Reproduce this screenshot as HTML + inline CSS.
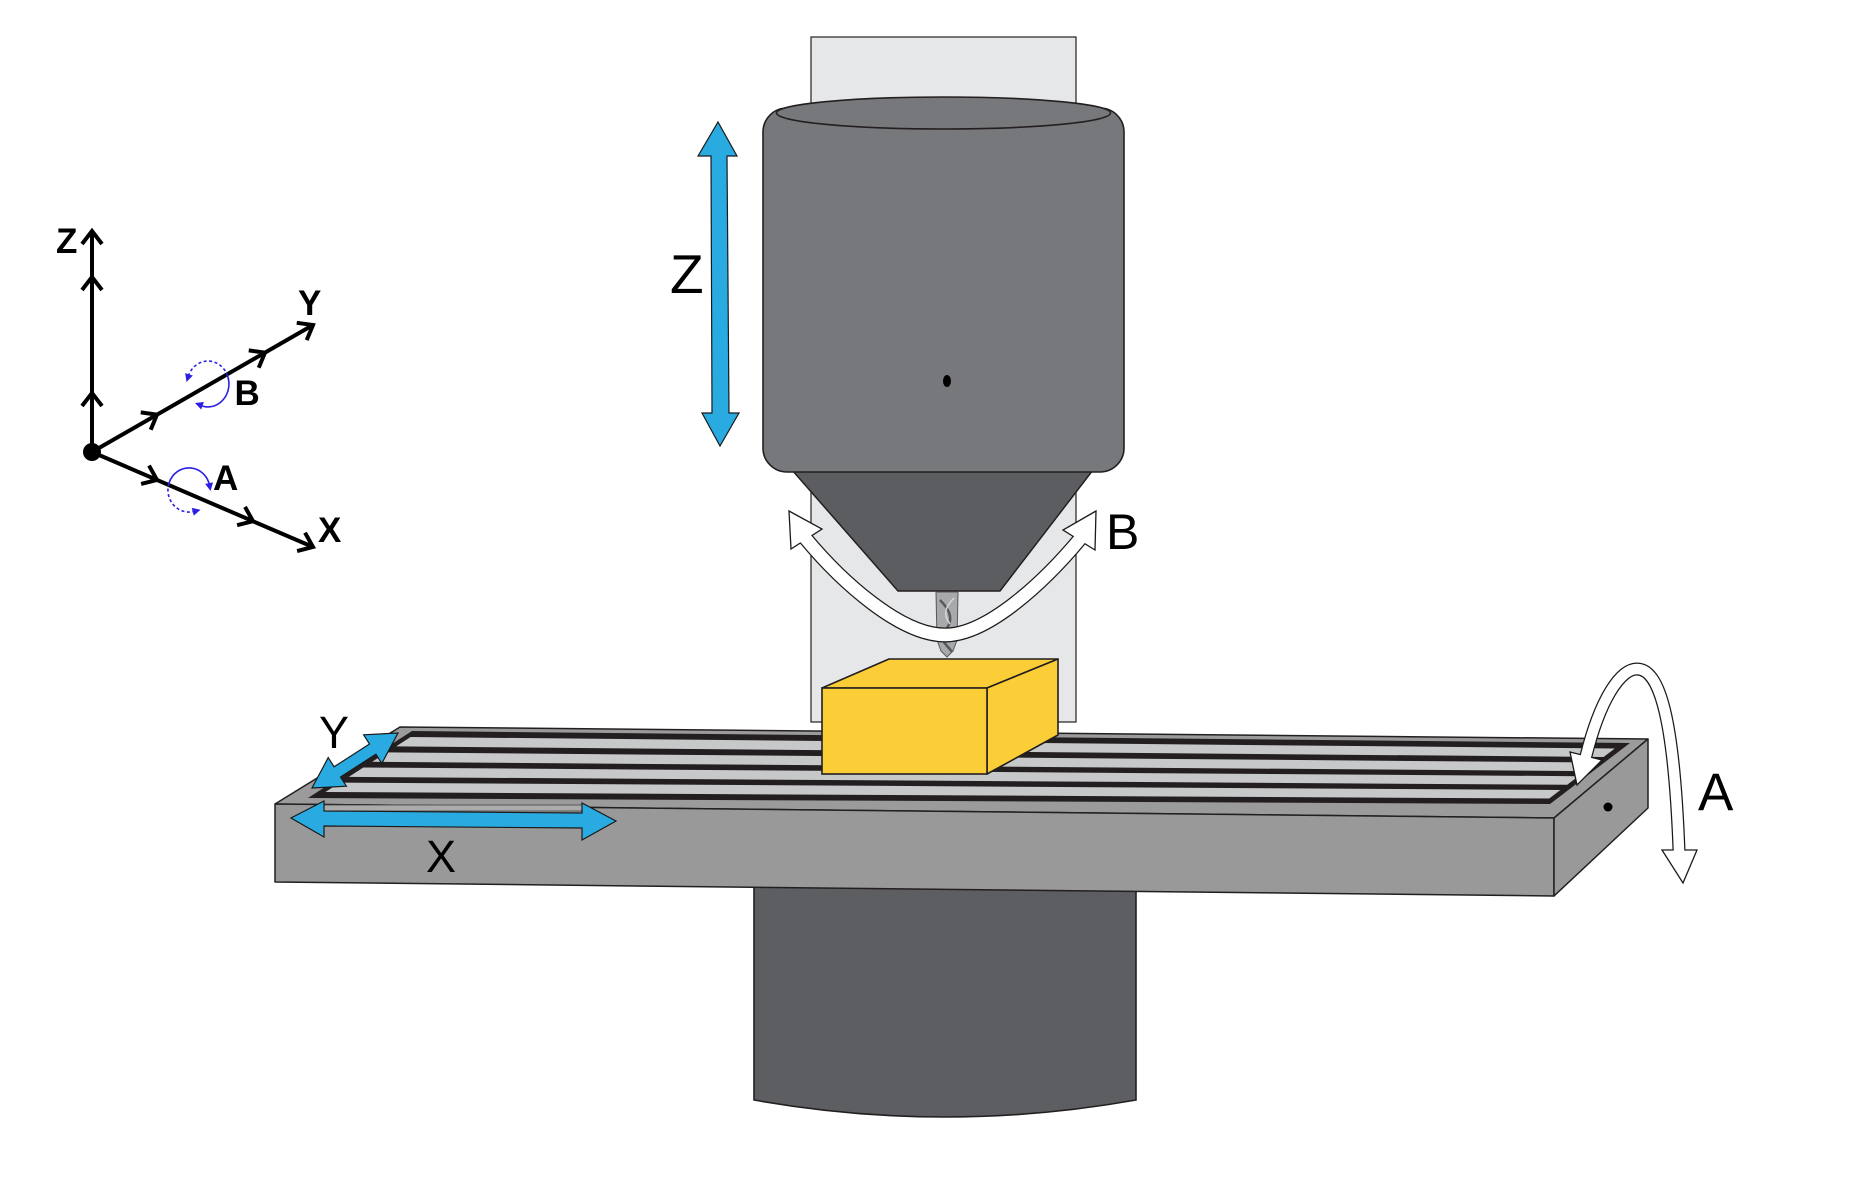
<!DOCTYPE html>
<html>
<head>
<meta charset="utf-8">
<style>
html,body{margin:0;padding:0;background:#fff;}
body{width:1870px;height:1197px;overflow:hidden;}
svg{display:block;}
text{font-family:"Liberation Sans",sans-serif;}
</style>
</head>
<body>
<svg width="1870" height="1197" viewBox="0 0 1870 1197" xmlns="http://www.w3.org/2000/svg">
<rect width="1870" height="1197" fill="#fff"/>

<!-- ===== Small axis diagram ===== -->
<g stroke="#000" stroke-width="4" fill="none" stroke-linejoin="miter">
  <line x1="92" y1="452" x2="92" y2="231"/>
  <line x1="92" y1="452" x2="313" y2="325"/>
  <line x1="92" y1="452" x2="313" y2="547"/>
  <!-- Z chevrons -->
  <path d="M -13,-10 L 0,0 L -13,10" transform="translate(92,231) rotate(-90)"/>
  <path d="M -13,-10 L 0,0 L -13,10" transform="translate(92,277) rotate(-90)"/>
  <path d="M -13,-10 L 0,0 L -13,10" transform="translate(92,393) rotate(-90)"/>
  <!-- Y chevrons -->
  <path d="M -13,-10 L 0,0 L -13,10" transform="translate(313,325) rotate(-29.9)"/>
  <path d="M -13,-10 L 0,0 L -13,10" transform="translate(157,414.6) rotate(-29.9)"/>
  <path d="M -13,-10 L 0,0 L -13,10" transform="translate(265,352.6) rotate(-29.9)"/>
  <!-- X chevrons -->
  <path d="M -13,-10 L 0,0 L -13,10" transform="translate(313,547) rotate(23.3)"/>
  <path d="M -13,-10 L 0,0 L -13,10" transform="translate(157,479.9) rotate(23.3)"/>
  <path d="M -13,-10 L 0,0 L -13,10" transform="translate(253,521.2) rotate(23.3)"/>
</g>
<circle cx="92" cy="452" r="9" fill="#000"/>

<!-- blue rotation arcs -->
<g stroke="#2b1fe3" stroke-width="1.6" fill="none">
  <path d="M 188.3,376.1 A 21 23 0 0 1 226.5,373.2" stroke-dasharray="3 2.5"/>
  <path d="M 226.5,373.2 A 21 23 0 0 1 199.1,404.8"/>
  <path d="M 169,483.2 A 21 22 0 0 1 209.7,486.2"/>
  <path d="M 169,483.2 A 21 22 0 0 0 194.4,511.3" stroke-dasharray="3 2.5"/>
</g>
<g fill="#2b1fe3">
  <polygon points="0,0 -8,-4 -8,4" transform="translate(186.5,382) rotate(108)"/>
  <polygon points="0,0 -8,-4 -8,4" transform="translate(195,403) rotate(200)"/>
  <polygon points="0,0 -8,-4 -8,4" transform="translate(210.5,491) rotate(80)"/>
  <polygon points="0,0 -8,-4 -8,4" transform="translate(200.5,509.7) rotate(-15)"/>
</g>

<g font-weight="bold" font-size="35" fill="#000">
  <text x="56" y="253">Z</text>
  <text x="298" y="315">Y</text>
  <text x="318" y="542">X</text>
  <text x="234.5" y="405">B</text>
  <text x="213" y="490">A</text>
</g>

<!-- ===== Machine ===== -->
<!-- column -->
<rect x="811" y="37" width="265" height="685" fill="#e6e7e8" stroke="#231f20" stroke-width="1.2"/>

<!-- cone -->
<polygon points="792,470 1093,470 1000,591 898,591" fill="#5c5d61" stroke="#231f20" stroke-width="1.5"/>

<!-- head body -->
<rect x="763" y="108" width="361" height="364" rx="24" ry="24" fill="#77787b" stroke="#231f20" stroke-width="1.6"/>
<ellipse cx="943.5" cy="113" rx="167" ry="16" fill="#77787b" stroke="#231f20" stroke-width="1.6"/>
<ellipse cx="947" cy="381" rx="4" ry="6" fill="#000"/>

<!-- drill -->
<polygon points="936,592 958,592 957,640 953,651 947,657 941,651 937,640" fill="#a7a9ac" stroke="#58595b" stroke-width="1"/>
<path d="M 940,600 C 950,610 955,620 944,632 C 938,640 950,648 952,652" stroke="#58595b" stroke-width="2.5" fill="none"/>
<path d="M 954,598 C 946,606 942,614 950,624" stroke="#d6d7d9" stroke-width="1.5" fill="none"/>

<!-- Z arrow -->
<polygon points="718,122 737,156 727,156 729,413 739,413 720,446 702,413 712,413 711,156 698,156" fill="#29abe2" stroke="#1a1a1a" stroke-width="1.2" stroke-linejoin="miter"/>

<!-- B arrow (hollow) -->
<path d="M 806,539 C 841,581 900,635 945,635 C 988,635 1045,581 1080,539" fill="none" stroke="#1a1a1a" stroke-width="15"/>
<polygon points="789,511 822,529 791,549" fill="#fff" stroke="#1a1a1a" stroke-width="1.3" stroke-linejoin="miter"/>
<polygon points="1096,511 1063,530 1095,550" fill="#fff" stroke="#1a1a1a" stroke-width="1.3" stroke-linejoin="miter"/>
<path d="M 803.5,535.5 L 806,539 C 841,581 900,635 945,635 C 988,635 1045,581 1080,539 L 1082.5,535.5" fill="none" stroke="#fff" stroke-width="12.5"/>

<!-- base column below table -->
<path d="M 754,880 L 754,1100 Q 945,1134 1136,1100 L 1136,880 Z" fill="#5d5e62" stroke="#231f20" stroke-width="1.6"/>

<!-- table -->
<polygon points="400,727 1648,739 1554,818 275,804" fill="#9b9b9b" stroke="#231f20" stroke-width="1.5" stroke-linejoin="round"/>
<polygon points="275,804 1554,818 1554,896 275,882" fill="#999999" stroke="#231f20" stroke-width="1.5" stroke-linejoin="round"/>
<polygon points="1554,818 1648,739 1648,808 1554,896" fill="#999999" stroke="#231f20" stroke-width="1.5" stroke-linejoin="round"/>
<circle cx="1608" cy="807" r="4.5" fill="#000"/>

<!-- slot frame -->
<polygon points="412,731 1630,743 1550,804 308,798" fill="#231f20"/>
<g fill="#c7c8ca">
  <polygon points="410.6,737 1614.8,748.5 1603.6,757 396.1,746.4"/>
  <polygon points="386.7,752.4 1596.4,762.5 1585.2,771.1 372.2,761.8"/>
  <polygon points="363.3,767.5 1578.4,776.2 1567.2,784.8 348.8,776.9"/>
  <polygon points="339.9,782.6 1560.4,790 1549.2,798.5 325.4,792"/>
</g>

<!-- workpiece -->
<polygon points="822,688 889,659 1058,659 987,688" fill="#fbcd36" stroke="#231f20" stroke-width="1.6" stroke-linejoin="round"/>
<polygon points="987,688 1058,659 1058,735 987,774" fill="#fbcd36" stroke="#231f20" stroke-width="1.6" stroke-linejoin="round"/>
<rect x="822" y="688" width="165" height="86" fill="#fbcd36" stroke="#231f20" stroke-width="1.6"/>

<!-- X arrow -->
<rect x="324" y="805" width="258" height="6" fill="#ababab" stroke="#444" stroke-width="0.8"/>
<polygon points="291,818 324,801 324,811 582,813 582,803 616,821 582,840 582,828 324,826 324,837" fill="#29abe2" stroke="#1a1a1a" stroke-width="1.2" stroke-linejoin="miter"/>

<!-- Y arrow -->
<polygon points="312,788 346.4,786.2 340.5,777 375.9,754.2 381.8,763.4 398,733 363.6,734.8 369.5,744 334.1,766.8 328.2,757.6" fill="#29abe2" stroke="#1a1a1a" stroke-width="1.2" stroke-linejoin="miter"/>

<!-- A arrow (hollow) -->
<path d="M 1586,756 C 1600,700 1620,669 1637,669 C 1660,669 1674,720 1679,850" fill="none" stroke="#1a1a1a" stroke-width="13"/>
<polygon points="1577,785 1570,752 1602,760" fill="#fff" stroke="#1a1a1a" stroke-width="1.3" stroke-linejoin="miter"/>
<polygon points="1662,850 1697,850 1683,883" fill="#fff" stroke="#1a1a1a" stroke-width="1.3" stroke-linejoin="miter"/>
<path d="M 1585,759.5 L 1586,756 C 1600,700 1620,669 1637,669 C 1660,669 1674,720 1679,850 L 1679.1,853" fill="none" stroke="#fff" stroke-width="10.5"/>

<!-- big labels -->
<g fill="#000">
  <text x="670" y="293" font-size="55">Z</text>
  <text x="1106" y="549" font-size="50">B</text>
  <text x="1698" y="810" font-size="53">A</text>
  <text x="426" y="872" font-size="45">X</text>
  <text x="319" y="748" font-size="45">Y</text>
</g>
</svg>
</body>
</html>
